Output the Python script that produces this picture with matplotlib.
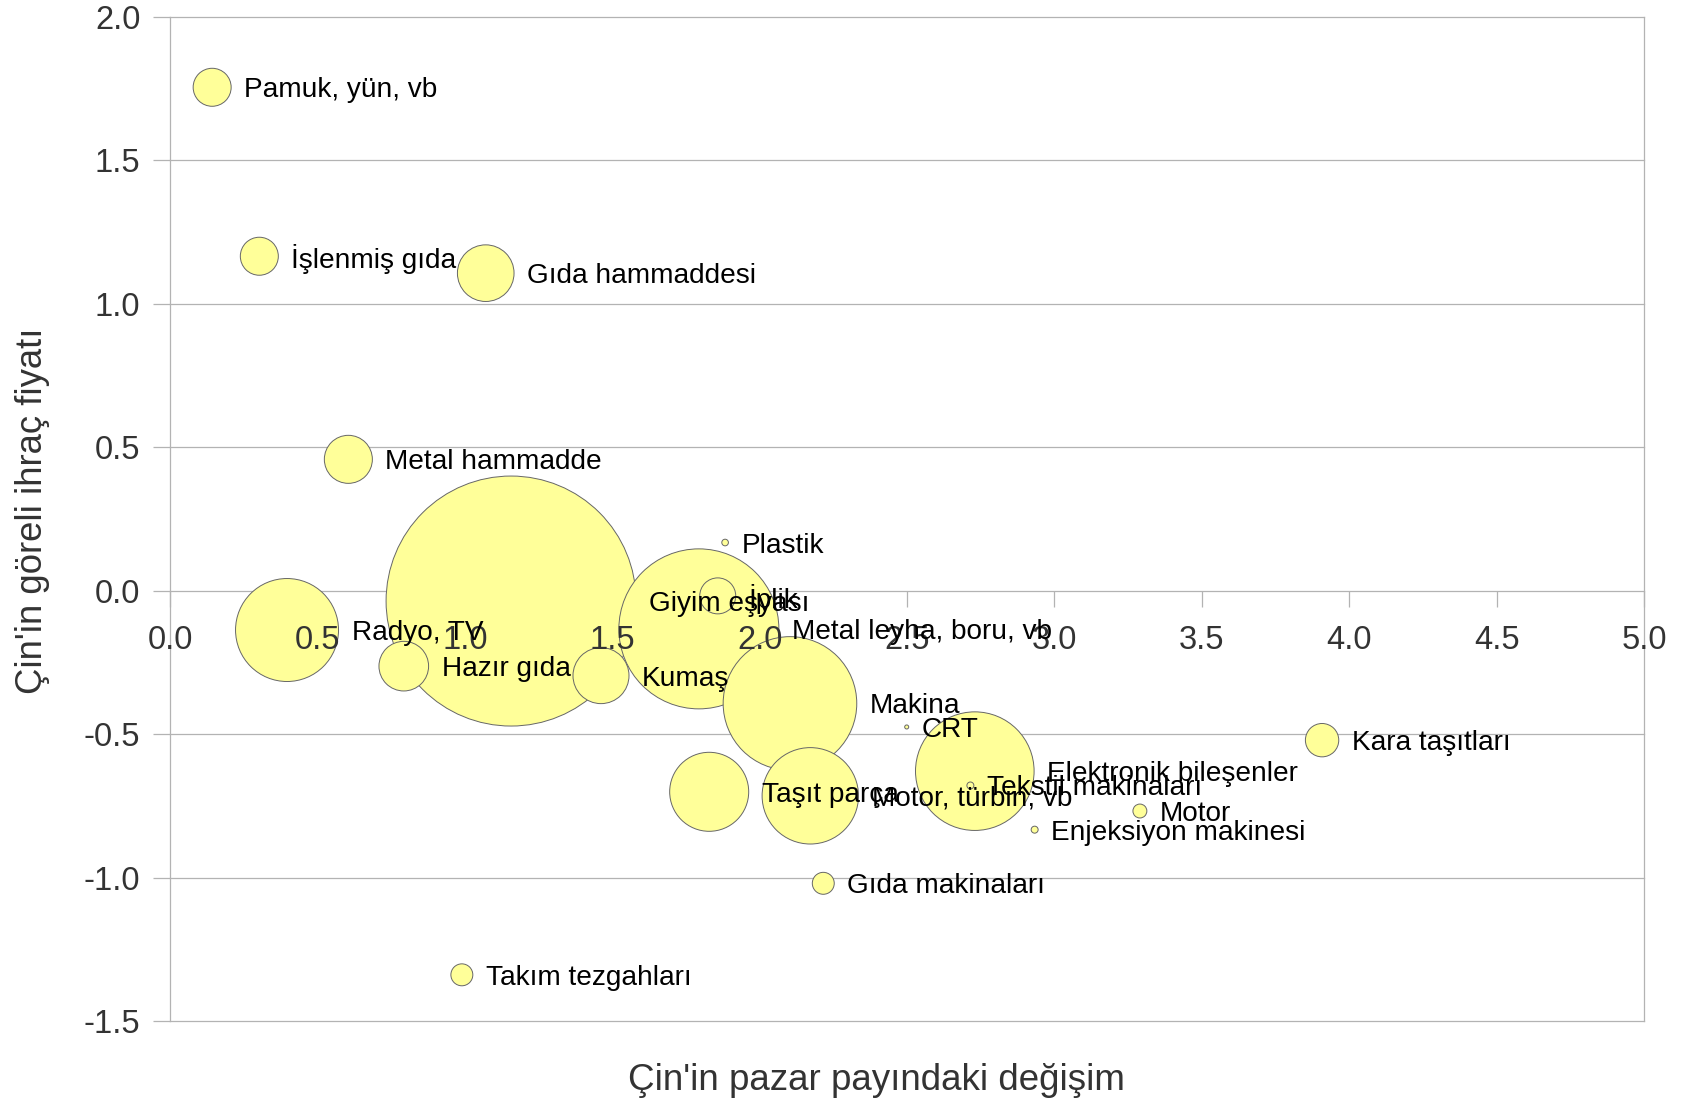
import numpy as np
import matplotlib
matplotlib.use("Agg")
import matplotlib.pyplot as plt
from matplotlib.lines import TICKDOWN
from matplotlib.ticker import FormatStrFormatter

plt.rcParams['font.family'] = ['Liberation Sans', 'DejaVu Sans']
plt.rcParams['axes.unicode_minus'] = False

# bubble data: label, market share change (x), relative export price (y), bubble size
labels = ["Pamuk, yün, vb", "İşlenmiş gıda", "Gıda hammaddesi", "Metal hammadde",
          "Radyo, TV", "Hazır gıda", "Giyim eşyası", "Kumaş", "Plastik",
          "Metal leyha, boru, vb", "İplik", "Makina", "CRT", "Taşıt parça",
          "Motor, türbin, vb", "Elektronik bileşenler", "Tekstil makinaları",
          "Enjeksiyon makinesi", "Motor", "Gıda makinaları", "Kara taşıtları",
          "Takım tezgahları"]
x_vals = [0.143, 0.303, 1.071, 0.605, 0.397, 0.793, 1.157, 1.462, 1.883,
          1.794, 1.858, 2.103, 2.499, 1.829, 2.172, 2.730, 2.715, 2.933,
          3.290, 2.216, 3.908, 0.990]
y_vals = [1.755, 1.166, 1.107, 0.458, -0.137, -0.263, -0.036, -0.296, 0.168,
          -0.133, -0.018, -0.393, -0.475, -0.701, -0.715, -0.629, -0.679,
          -0.833, -0.768, -1.020, -0.521, -1.339]
sizes = [2.31, 2.31, 5.13, 3.69, 16.97, 3.94, 100.0, 5.02, 0.07, 40.96, 2.07,
         28.56, 0.026, 9.99, 14.87, 22.5, 0.078, 0.078, 0.31, 0.77, 1.78, 0.77]

x_ticks = np.arange(0, 5.01, 0.5)
y_ticks = np.arange(-1.5, 2.01, 0.5)

DPI = 100
W, H = 1688, 1106
GRID = '#b3b3b3'
TXT = '#333333'
R_MAX = 125  # px radius of the largest bubble

fig = plt.figure(figsize=(W / DPI, H / DPI), dpi=DPI)
ax = fig.add_axes([170 / W, 1 - 1021 / H, (1644 - 170) / W, (1021 - 17) / H])

# gridlines and x tick marks by hand so they stay under the bubbles
for yt in y_ticks:
    ax.axhline(yt, color=GRID, linewidth=0.9, zorder=1, clip_on=False)
ax.plot(x_ticks, np.zeros_like(x_ticks), linestyle='none', marker=TICKDOWN,
        markersize=11.5, markeredgewidth=0.9, color=GRID, zorder=1, clip_on=False)

# radius in px from bubble size (area proportional)
sizes = np.array(sizes)
radius_px = R_MAX * np.sqrt(sizes / sizes.max())
diam_pt = 2 * radius_px * 72 / DPI

# draw bigger bubbles first so small ones stay visible
order = np.argsort(-sizes, kind='stable')
ax.scatter(np.array(x_vals)[order], np.array(y_vals)[order], s=diam_pt[order] ** 2,
           c='#ffff99', edgecolors='#666666', linewidths=0.7, zorder=2)

for i, lab in enumerate(labels):
    off = (radius_px[i] + 13) * 72 / DPI
    ax.annotate(lab, (x_vals[i], y_vals[i]), xytext=(off, 0), textcoords='offset points',
                ha='left', va='center_baseline', fontsize=20.2, color='black', zorder=5)

ax.set_xlim(0, 5)
ax.set_ylim(-1.5, 2.0)
ax.set_xticks(x_ticks)
ax.set_yticks(y_ticks)
ax.xaxis.set_major_formatter(FormatStrFormatter('%.1f'))
ax.yaxis.set_major_formatter(FormatStrFormatter('%.1f'))
ax.set_axisbelow(False)  # tick labels over the bubbles

# x axis crosses at y = 0; its line is the zero gridline
ax.spines['bottom'].set_position(('data', 0))
ax.spines['bottom'].set_visible(False)
ax.spines['top'].set_visible(False)
for side in ['left', 'right']:
    ax.spines[side].set_color(GRID)
    ax.spines[side].set_linewidth(0.9)

ax.tick_params(axis='x', direction='out', length=0, pad=25, labelsize=23.5,
               labelcolor=TXT)
ax.tick_params(axis='y', direction='out', length=12, width=0.9, color=GRID,
               pad=9.4, labelsize=23.5, labelcolor=TXT)

fig.text(876 / W, 1 - 1090 / H, "Çin'in pazar payındaki değişim", ha='center',
         va='baseline', fontsize=26.5, color=TXT)
fig.text(33 / W, 1 - 511 / H, "Çin'in göreli ihraç fiyatı", ha='center',
         va='center', rotation=90, fontsize=26.3, color=TXT)

fig.savefig("out.png", dpi=DPI)
